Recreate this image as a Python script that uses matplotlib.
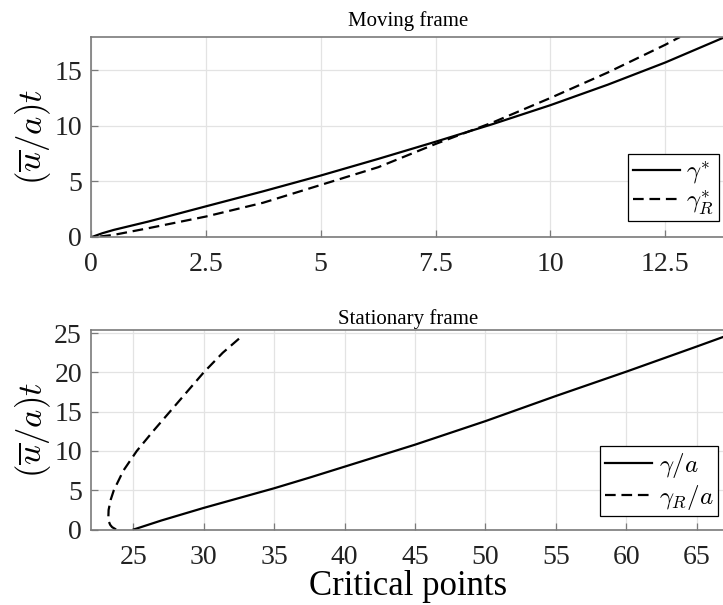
import matplotlib
matplotlib.use("Agg")
import matplotlib.pyplot as plt

# ---- data ----
top_solid_x = [0.05, 0.25, 0.5, 1.25, 2.5, 3.75, 5.0, 6.25, 7.5, 8.75, 10.0, 11.25, 12.5, 13.8]
top_solid_y = [0.0, 0.3, 0.6, 1.35, 2.72, 4.08, 5.5, 7.0, 8.55, 10.15, 11.85, 13.7, 15.7, 18.0]
top_dash_x = [0.2, 0.5, 1.25, 2.5, 3.75, 5.0, 6.25, 7.5, 8.75, 10.0, 11.25, 12.5, 12.82]
top_dash_y = [0.0, 0.15, 0.75, 1.8, 3.05, 4.65, 6.25, 8.35, 10.3, 12.5, 14.8, 17.3, 18.0]

bot_solid_x = [25.03, 27.0, 30.0, 32.5, 35.0, 37.5, 40.0, 42.5, 45.0, 50.0, 55.0, 60.0, 65.0, 67.0]
bot_solid_y = [0.0, 1.15, 2.75, 4.0, 5.25, 6.6, 8.0, 9.4, 10.8, 13.8, 17.0, 20.1, 23.3, 24.6]
bot_dash_y = [0.0, 0.3, 0.6, 1.0, 1.5, 2.5, 3.8, 5.0, 7.5, 10.0, 12.5, 15.0, 17.5, 20.0, 22.5, 24.6]
bot_dash_x = [23.78, 23.5, 23.36, 23.27, 23.23, 23.25, 23.4, 23.62, 24.3, 25.25, 26.4, 27.6, 28.8, 30.0, 31.35, 32.7]

top_xticks = [0, 2.5, 5, 7.5, 10, 12.5]
top_xticklabels = ["0", "2.5", "5", "7.5", "10", "12.5"]
top_yticks = [0, 5, 10, 15]
bot_xticks = [25, 30, 35, 40, 45, 50, 55, 60, 65]
bot_yticks = [0, 5, 10, 15, 20, 25]

top_title = "Moving frame"
bot_title = "Stationary frame"
ylabel = r"$(\overline{u}/a)t$"
xlabel = "Critical points"
top_labels = [r"$\gamma^{*}$", r"$\gamma^{*}_{R}$"]
bot_labels = [r"$\gamma/a$", r"$\gamma_{R}/a$"]

plt.rcParams["mathtext.fontset"] = "cm"
plt.rcParams["font.family"] = ["Liberation Serif", "DejaVu Serif"]

W, H = 723, 605
fig = plt.figure(figsize=(W / 100, H / 100), dpi=100)

spine_c = "#7a7a7a"
grid_c = "#e3e3e3"
DASH = (4.8, 2.6)
LW = 1.6

ax1 = fig.add_axes([91 / W, (H - 236.5) / H, (W - 91 + 2) / W, (236.5 - 37) / H])
ax2 = fig.add_axes([91 / W, (H - 529.5) / H, (W - 91 + 2) / W, (529.5 - 330) / H])

def style(ax):
    for s in ax.spines.values():
        s.set_color(spine_c)
        s.set_linewidth(1.2)
    ax.grid(True, color=grid_c, linewidth=0.9)
    ax.set_axisbelow(True)
    ax.tick_params(direction="in", length=5, width=0.9, color=spine_c,
                   labelsize=20, labelcolor="#222222")
    ax.tick_params(axis="x", pad=11.5)
    ax.tick_params(axis="y", pad=6.5)

def legend(ax, labels, anchor):
    leg = ax.legend(labels, loc="lower right", bbox_to_anchor=anchor,
                    bbox_transform=fig.transFigure, borderaxespad=0,
                    fontsize=18, handlelength=1.9, handletextpad=0.25,
                    borderpad=0.18, labelspacing=0.12,
                    fancybox=False, framealpha=1, edgecolor="black")
    leg.get_frame().set_linewidth(0.9)
    return leg

ax1.plot(top_solid_x, top_solid_y, color="black", lw=LW)
ax1.plot(top_dash_x, top_dash_y, color="black", lw=LW, dashes=DASH)
ax1.set_xlim(0, 13.8)
ax1.set_ylim(0, 18)
ax1.set_xticks(top_xticks)
ax1.set_xticklabels(top_xticklabels)
ax1.set_yticks(top_yticks)
style(ax1)
ax1.set_title(top_title, fontsize=15, pad=8)
ax1.set_ylabel(ylabel, fontsize=25, labelpad=1)
legend(ax1, top_labels, (719 / W, (H - 221) / H))

ax2.plot(bot_solid_x, bot_solid_y, color="black", lw=LW)
ax2.plot(bot_dash_x, bot_dash_y, color="black", lw=LW, dashes=DASH)
ax2.set_xlim(22, 67)
ax2.set_ylim(0, 25.4)
ax2.set_xticks(bot_xticks)
ax2.set_yticks(bot_yticks)
style(ax2)
ax2.set_title(bot_title, fontsize=15, pad=4)
ax2.set_ylabel(ylabel, fontsize=25, labelpad=1)
ax2.set_xlabel(xlabel, fontsize=25, labelpad=0)
legend(ax2, bot_labels, (718 / W, (H - 516) / H))

fig.savefig("out.png", dpi=100)
